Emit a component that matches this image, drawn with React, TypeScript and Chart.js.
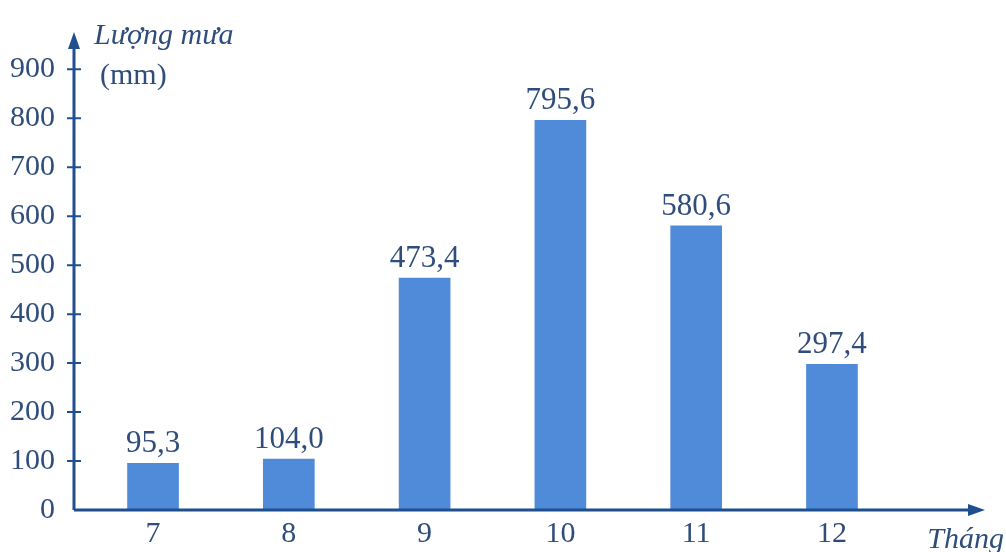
import React, { useEffect, useRef } from "react";
import { Chart, registerables } from "chart.js";

Chart.register(...registerables);

const months = [7, 8, 9, 10, 11, 12];
const rainfall = [95.3, 104.0, 473.4, 795.6, 580.6, 297.4];
const valueLabels = ["95,3", "104,0", "473,4", "795,6", "580,6", "297,4"];
const yTicks = [0, 100, 200, 300, 400, 500, 600, 700, 800, 900];
const yTitle = "Lượng mưa";
const yUnit = "(mm)";
const xTitle = "Tháng";

const AXIS = "#1f4f8e";
const TEXT = "#2f4d7c";
const BAR = "#4f8bd8";
const FONT = "'Liberation Serif', 'Times New Roman', serif";

const decor = {
  id: "decor",
  afterDatasetsDraw(chart: any) {
    const { ctx, chartArea } = chart;
    const ys = chart.scales.y;
    const meta = chart.getDatasetMeta(0);
    const left = chartArea.left;
    const bottom = chartArea.bottom;
    const tipY = chartArea.top - 5;
    ctx.save();
    // value labels
    ctx.fillStyle = TEXT;
    ctx.font = `31px ${FONT}`;
    ctx.textAlign = "center";
    ctx.textBaseline = "alphabetic";
    meta.data.forEach((bar: any, i: number) => {
      ctx.fillText(valueLabels[i], bar.x, bar.y - 11);
    });
    // axes
    ctx.strokeStyle = AXIS;
    ctx.fillStyle = AXIS;
    ctx.lineWidth = 3;
    ctx.beginPath();
    ctx.moveTo(left, bottom);
    ctx.lineTo(left, tipY + 12);
    ctx.moveTo(left, bottom);
    ctx.lineTo(chartArea.right - 12, bottom);
    ctx.stroke();
    // arrows
    ctx.beginPath();
    ctx.moveTo(left, tipY);
    ctx.lineTo(left - 6, tipY + 17);
    ctx.lineTo(left + 6, tipY + 17);
    ctx.closePath();
    ctx.fill();
    ctx.beginPath();
    ctx.moveTo(chartArea.right, bottom);
    ctx.lineTo(chartArea.right - 17, bottom - 6);
    ctx.lineTo(chartArea.right - 17, bottom + 6);
    ctx.closePath();
    ctx.fill();
    // tick marks crossing y axis
    ctx.lineWidth = 2;
    ctx.beginPath();
    yTicks.forEach((v) => {
      if (v === 0) return;
      const py = ys.getPixelForValue(v);
      ctx.moveTo(left - 7, py);
      ctx.lineTo(left + 7, py);
    });
    ctx.stroke();
    // titles
    const y900 = ys.getPixelForValue(900);
    ctx.fillStyle = TEXT;
    ctx.textAlign = "left";
    ctx.font = `italic 30px ${FONT}`;
    ctx.fillText(yTitle, left + 20, y900 - 25);
    ctx.font = `30px ${FONT}`;
    ctx.textBaseline = "middle";
    ctx.fillText(yUnit, left + 26, y900 + 7);
    ctx.textBaseline = "alphabetic";
    ctx.font = `italic 30px ${FONT}`;
    ctx.textAlign = "right";
    ctx.fillText(xTitle, chart.width - 2, bottom + 38);
    ctx.restore();
  },
};

export default function App() {
  const ref = useRef<HTMLCanvasElement>(null);
  useEffect(() => {
    document.body.style.margin = "0";
    const chart = new Chart(ref.current!, {
      type: "bar",
      data: {
        datasets: [
          {
            data: months.map((m, i) => ({ x: m, y: rainfall[i] })),
            backgroundColor: BAR,
            borderWidth: 0,
            barThickness: 51,
          },
        ],
      },
      options: {
        animation: false,
        responsive: false,
        layout: { padding: { left: 0, right: 21, top: 23, bottom: 0 } },
        plugins: { legend: { display: false }, tooltip: { enabled: false } },
        scales: {
          x: {
            type: "linear",
            offset: false,
            min: 6.418,
            max: 13.127,
            grid: { display: false, drawTicks: false, offset: false },
            border: { display: false },
            afterBuildTicks: (s: any) => {
              s.ticks = months.map((m) => ({ value: m }));
            },
            afterFit: (s: any) => {
              s.height = 42;
            },
            ticks: {
              color: TEXT,
              font: { family: FONT, size: 30 },
              padding: 6,
              maxRotation: 0,
              autoSkip: false,
            },
          },
          y: {
            min: 0,
            max: 966,
            grid: { display: false, drawTicks: false },
            border: { display: false },
            afterBuildTicks: (s: any) => {
              s.ticks = yTicks.map((v) => ({ value: v }));
            },
            afterFit: (s: any) => {
              s.width = 74;
            },
            ticks: {
              color: TEXT,
              font: { family: FONT, size: 30 },
              padding: 19,
              autoSkip: false,
            },
          },
        },
      },
      plugins: [decor],
    });
    return () => chart.destroy();
  }, []);
  return (
    <div style={{ width: 1006, height: 552 }}>
      <canvas ref={ref} width={1006} height={552} style={{ display: "block" }} />
    </div>
  );
}
